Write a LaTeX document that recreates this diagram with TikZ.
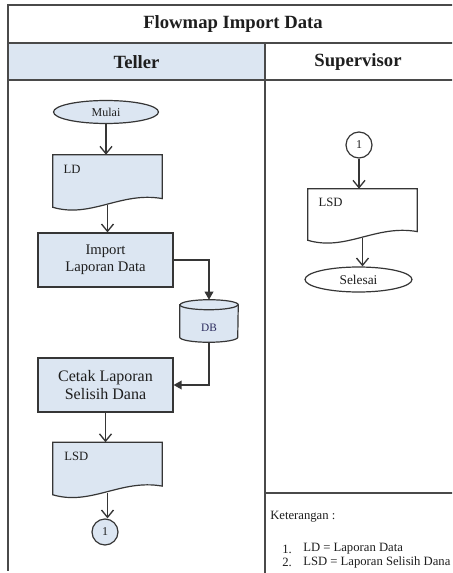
\documentclass[tikz,border=0pt]{standalone}
\usepackage{fontspec}
\setmainfont{Liberation Serif}
\usetikzlibrary{arrows.meta,shapes.geometric,calc}
\definecolor{lb}{HTML}{DCE6F2}
\definecolor{ln}{HTML}{363636}
\definecolor{fr}{HTML}{4A4A4A}
\definecolor{tx}{HTML}{1E1E1E}
\newcommand\docshape[2]{%
  \filldraw[fill=#2, draw=ln, line width=0.9pt] (#1.north west) -- (#1.north east) -- ([yshift=6.5pt]#1.south east)
    .. controls ($(#1.south west)!0.62!(#1.south east)+(0,12pt)$) and ($(#1.south west)!0.35!(#1.south east)+(0,-8.5pt)$) .. (#1.south west) -- cycle;}
\begin{document}
\begin{tikzpicture}[x=0.75pt,y=-0.75pt,
  frame/.style={draw=fr, line width=1.1pt},
  hdr/.style={font=\fontsize{14}{16}\selectfont\bfseries, text=tx},
  proc/.style={draw=ln, fill=lb, line width=0.9pt, minimum width=101.25pt, minimum height=40.5pt, align=center, inner sep=0pt, text=tx},
  term/.style={ellipse, draw=ln, line width=0.9pt, inner sep=0pt, text=tx},
  docbox/.style={minimum width=81.75pt, minimum height=39pt, inner sep=0pt},
  doctext/.style={anchor=west, inner sep=0pt, font=\fontsize{9.5}{11}\selectfont, text=tx},
  conn/.style={circle, draw=ln, line width=0.9pt, minimum size=19.5pt, inner sep=0pt, font=\fontsize{9}{10}\selectfont, text=tx},
  flow/.style={draw=ln, line width=0.95pt, -{Straight Barb[length=5.5pt,width=9pt,line width=1pt]}},
  flowt/.style={draw=ln, line width=0.95pt, -{Triangle[length=6pt,width=6.5pt]}},
  legend/.style={anchor=west, inner sep=0pt, font=\fontsize{9.5}{11}\selectfont, text=tx}
]
\clip (0,0) rectangle (452,573);
\fill[white] (0,0) rectangle (452,573);
% frame
\fill[lb] (8,43) rectangle (265,80);
\draw[frame] (460,5) -- (8,5) -- (8,571);
\draw[frame] (8,43) -- (460,43);
\draw[frame] (8,80) -- (460,80);
\draw[frame] (265,43) -- (265,580);
\draw[frame] (265,493) -- (460,493);
\node[hdr] (title) at (233,24) {Flowmap Import Data};
\node[hdr] (teller) at (136.5,62) {Teller};
\node[hdr] (sup) at (358,62) {Supervisor};

% Teller lane
\node[term, fill=lb, minimum width=78.75pt, minimum height=17.25pt, font=\fontsize{9}{10}\selectfont] (mulai) at (106,112) {Mulai};
\node[docbox] (ld) at (107.5,181) {};
\node[proc, font=\fontsize{11}{13}\selectfont] (import) at (105.5,260) {Import\\Laporan Data};
\node[minimum width=43.5pt, minimum height=31.5pt, inner sep=0pt] (db) at (209,321) {};
\node[proc, font=\fontsize{12}{14}\selectfont] (cetak) at (105.5,385) {Cetak Laporan\\Selisih Dana};
\node[docbox] (lsdA) at (107.5,468.5) {};
\node[conn, fill=lb] (cA) at (105,532) {1};

% Supervisor lane
\node[conn, fill=white] (cB) at (359,145) {1};
\node[docbox, minimum height=38.25pt] (lsdB) at (362.5,214.5) {};
\node[term, fill=white, minimum width=80.25pt, minimum height=18.75pt, font=\fontsize{10}{12}\selectfont] (selesai) at (358.5,279.5) {Selesai};

% connectors
\draw[flow] (mulai.south) -- (mulai.south |- ld.north);
\draw[flow] ([yshift=1.5pt]ld.south) -- (ld.south |- import.north);
\draw[flowt] (import.east) -- (import.east -| db.north) -- (db.north);
\draw[flowt] (db.south) |- (cetak.east);
\draw[flow] (cetak.south) -- (cetak.south |- lsdA.north);
\draw[flow] ([yshift=1.5pt]lsdA.south) -- (lsdA.south |- cA.north);
\draw[flow] (cB.south) -- (cB.south |- lsdB.north);
\draw[flow] ([yshift=1.5pt]lsdB.south) -- (lsdB.south |- selesai.north);

% document shapes
\docshape{ld}{lb}
\docshape{lsdA}{lb}
\docshape{lsdB}{white}
\node[doctext] (ldt) at ([xshift=8pt,yshift=-11pt]ld.north west) {LD};
\node[doctext] (lsdAt) at ([xshift=8.5pt,yshift=-10.5pt]lsdA.north west) {LSD};
\node[doctext] (lsdBt) at ([xshift=8pt,yshift=-10pt]lsdB.north west) {LSD};

% database cylinder
\filldraw[fill=lb, draw=ln, line width=0.9pt]
  ([yshift=-3.75pt]db.north west) -- ([yshift=3.75pt]db.south west)
  arc[start angle=180, end angle=360, x radius=21.75pt, y radius=3.75pt]
  -- ([yshift=-3.75pt]db.north east)
  arc[start angle=0, end angle=180, x radius=21.75pt, y radius=3.75pt] -- cycle;
\draw[draw=ln, line width=0.9pt] ([yshift=-3.75pt]db.north west)
  arc[start angle=180, end angle=360, x radius=21.75pt, y radius=3.75pt];
\node[font=\fontsize{8.5}{10}\selectfont, text=ln!80!blue, inner sep=0pt] (dbt) at ([yshift=-5pt]db.center) {DB};

% legend
\node[legend] (ket) at (270,517) {Keterangan :};
\node[legend] (n1) at (282,549) {1.};
\node[legend] (l1) at (303,549) {LD = Laporan Data};
\node[legend] (n2) at (282,562) {2.};
\node[legend] (l2) at (303,562) {LSD = Laporan Selisih Dana};
\end{tikzpicture}
\end{document}
